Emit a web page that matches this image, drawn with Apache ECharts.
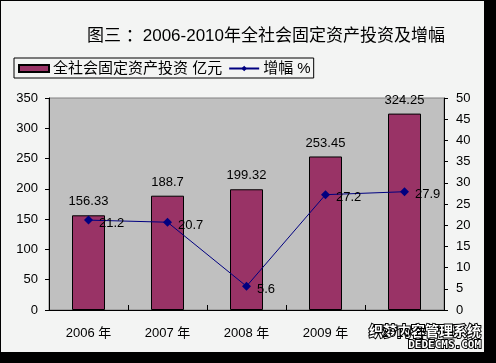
<!DOCTYPE html>
<html><head><meta charset="utf-8">
<script src="https://cdn.jsdelivr.net/npm/echarts@6/dist/echarts.min.js"></script>
<style>
html,body{margin:0;padding:0;background:#000;}
#c{position:absolute;left:1px;top:1px;width:483px;height:351px;background:#f3f4f3;}
</style></head><body>
<div id="c"></div>
<script>
var categories = ['2006 年','2007 年','2008 年','2009 年','2010 年'];
var investment = [156.33, 188.7, 199.32, 253.45, 324.25];
var growth = [21.2, 20.7, 5.6, 27.2, 27.9];
var leftTicks = [0,50,100,150,200,250,300,350];
var rightTicks = [0,5,10,15,20,25,30,35,40,45,50];

var chart = echarts.init(document.getElementById('c'), null, {renderer:'canvas'});
var font = '"Liberation Sans", "Noto Sans CJK SC", sans-serif';
chart.setOption({
  animation:false,
  textStyle:{fontFamily:font},
  title:{text:'图三 ：2006-2010年全社会固定资产投资及增幅', left:81, top:22,
    textStyle:{fontSize:17, fontWeight:'normal', color:'#000', fontFamily:font}},
  legend:{left:13, top:57, itemGap:6, padding:[3,3,2,4], borderColor:'#000', borderWidth:1,
    itemWidth:30, itemHeight:7, textStyle:{fontSize:15, color:'#000', padding:[0,0,0,-1]},
    data:[{name:'全社会固定资产投资 亿元', icon:'rect'},{name:'增幅 %'}]},
  grid:{left:48, top:97, width:395, height:212, show:true, backgroundColor:'#c0c0c0', borderColor:'#808080', borderWidth:1},
  xAxis:{type:'category', data:categories,
    axisLine:{lineStyle:{color:'#000', width:1}},
    axisTick:{show:true, inside:true, length:5, lineStyle:{color:'#000'}},
    axisLabel:{fontSize:13, color:'#000', margin:17}},
  yAxis:[
    {type:'value', min:0, max:350, interval:50,
      axisLine:{show:true, lineStyle:{color:'#000'}}, axisTick:{show:true, length:4, lineStyle:{color:'#000'}},
      splitLine:{show:false}, axisLabel:{fontSize:13, color:'#000', margin:11}},
    {type:'value', min:0, max:50, interval:5, position:'right',
      axisLine:{show:true, lineStyle:{color:'#000'}}, axisTick:{show:true, length:4, lineStyle:{color:'#000'}},
      splitLine:{show:false}, axisLabel:{fontSize:13, color:'#000', margin:12}}
  ],
  series:[
    {name:'全社会固定资产投资 亿元', type:'bar', data:investment, barWidth:33,
      itemStyle:{color:'#993366', borderColor:'#000', borderWidth:1},
      label:{show:true, position:'top', distance:7, fontSize:13, color:'#000'}},
    {name:'增幅 %', type:'line', yAxisIndex:1, data:growth, symbol:'diamond', symbolSize:9,
      lineStyle:{color:'#000080', width:1}, itemStyle:{color:'#000080'},
      label:{show:true, position:'right', distance:6, offset:[0,3], fontSize:13, color:'#000'}}
  ],
  graphic:[
    {type:'text', right:2, bottom:13, style:{text:'织梦内容管理系统', fill:'#fff', stroke:'#000', lineWidth:2, font:'bold 14px "Noto Sans CJK SC"'}},
    {type:'text', right:2, bottom:0, style:{text:'DEDECMS.COM', fill:'#fff', stroke:'#000', lineWidth:2, font:'bold 11px "DejaVu Sans Mono"'}}
  ]
});
</script></body></html>
